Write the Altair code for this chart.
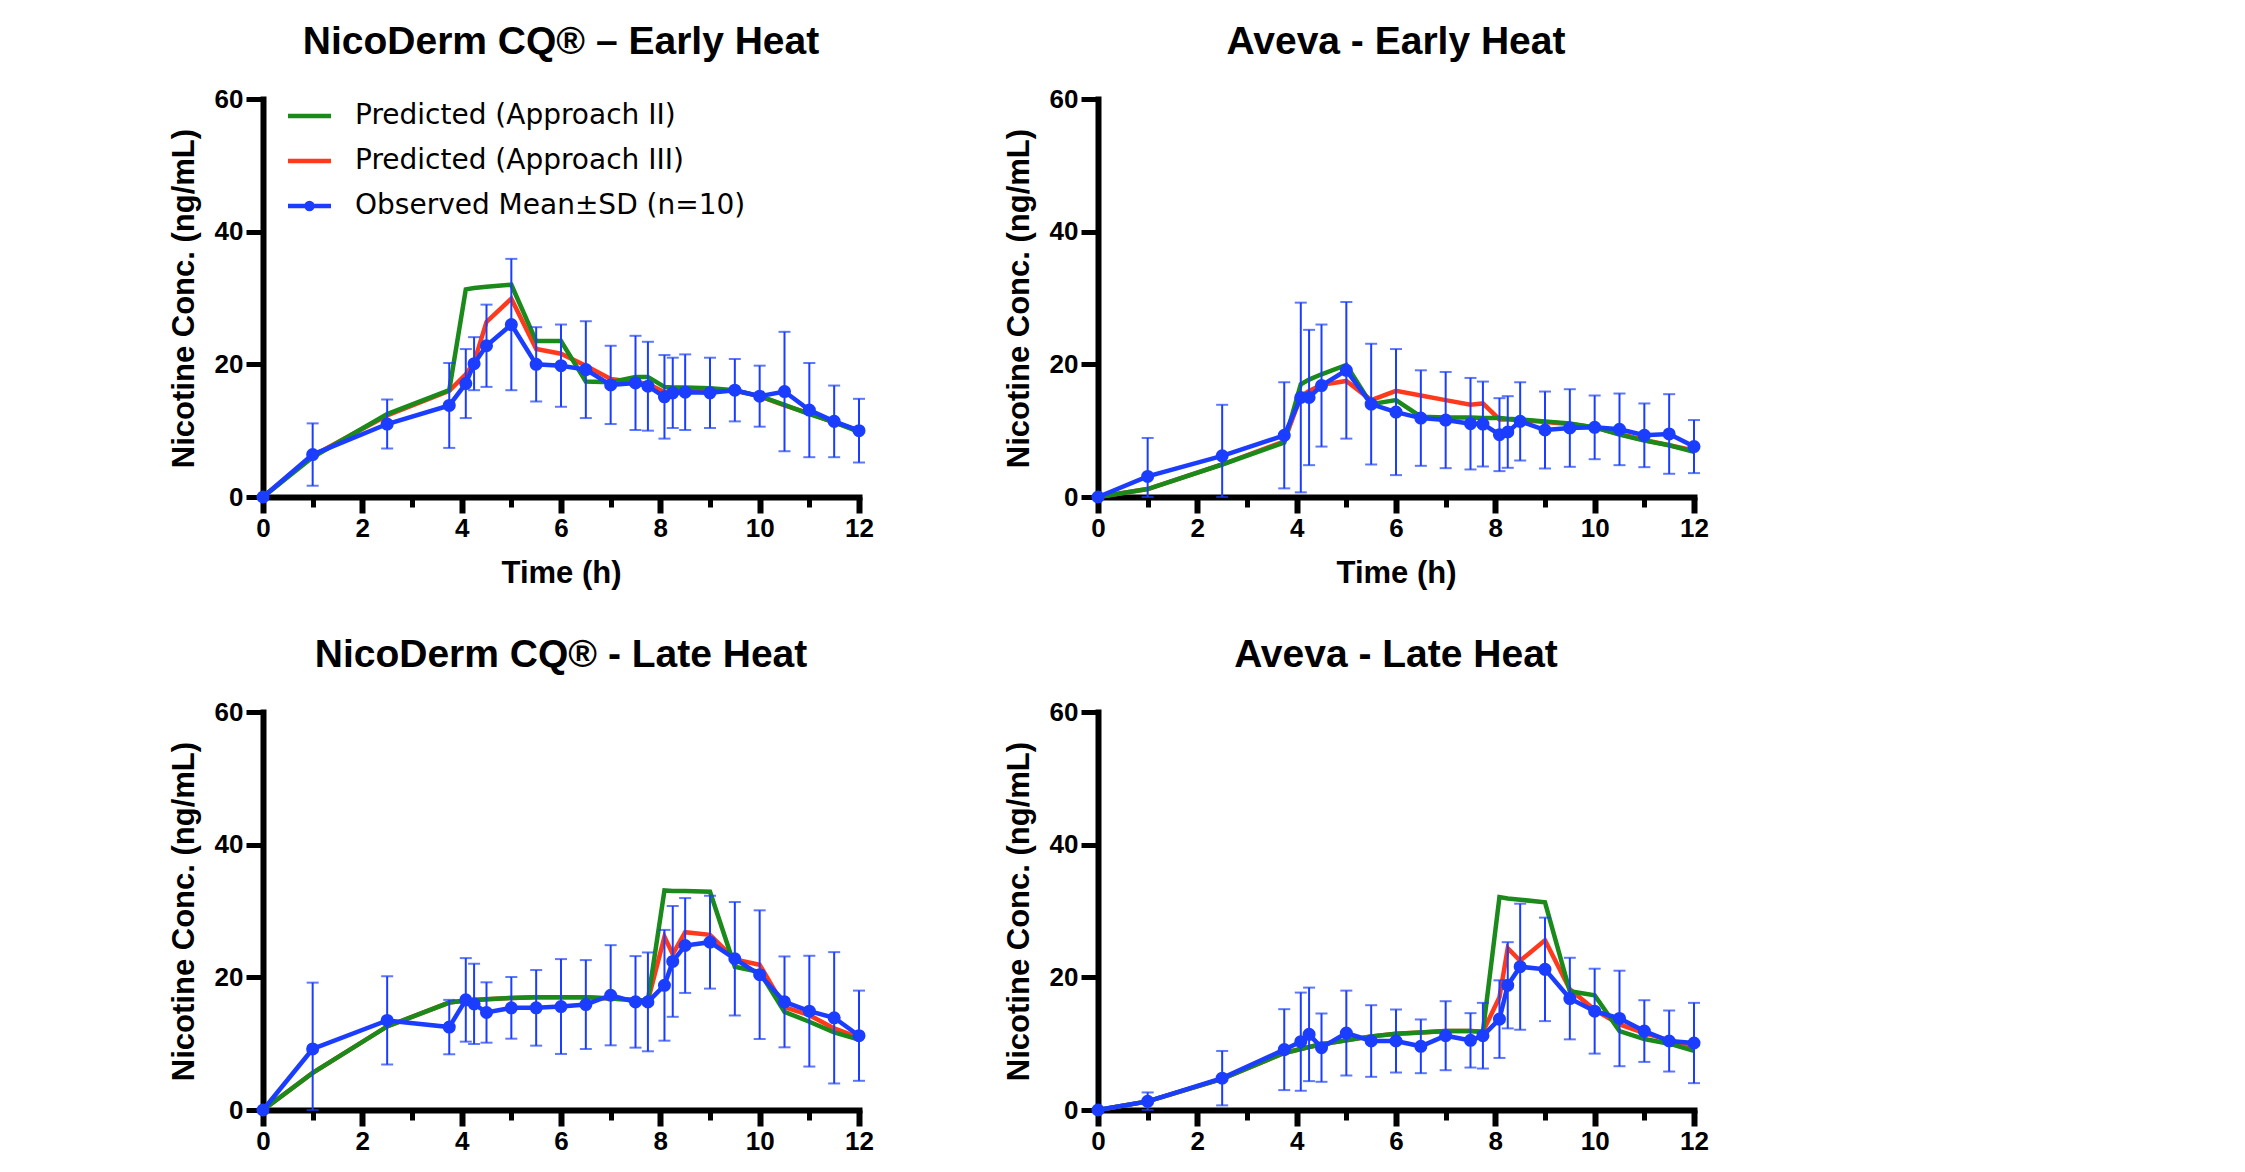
import altair as alt
import pandas as pd

FONT = "Liberation Sans"
LEGEND_FONT = "DejaVu Sans"
GREEN = "#1a8a1a"
RED = "#ff3a1c"
BLUE = "#1a3dff"

SERIES = ["Predicted (Approach II)", "Predicted (Approach III)", "Observed Mean±SD (n=10)"]
TITLES = ["NicoDerm CQ® – Early Heat", "Aveva - Early Heat",
          "NicoDerm CQ® - Late Heat", "Aveva - Late Heat"]

TIME = [0, 1, 2.5, 3.75, 4.083, 4.25, 4.5, 5, 5.5, 6, 6.5, 7, 7.5, 7.75,
        8.083, 8.25, 8.5, 9, 9.5, 10, 10.5, 11, 11.5, 12]

# NicoDerm CQ - Early Heat
nd_early_obs = [0, 6.4, 11.0, 13.8, 17.1, 20.1, 22.8, 26.0, 20.0, 19.8, 19.2, 16.9, 17.2, 16.7,
                15.1, 15.7, 15.8, 15.7, 16.1, 15.2, 15.9, 13.1, 11.4, 10.0]
nd_early_sd = [0, 4.7, 3.7, 6.4, 5.2, 4.0, 6.2, 9.9, 5.6, 6.2, 7.3, 5.9, 7.1, 6.7,
               6.3, 5.3, 5.7, 5.3, 4.7, 4.6, 9.0, 7.1, 5.4, 4.8]
nd_early_p2 = [0, 6.0, 12.5, 16.1, 31.3, 31.5, 31.7, 32.0, 23.5, 23.5, 17.4, 17.3, 18.1, 18.1,
               16.6, 16.5, 16.5, 16.4, 16.1, 15.2, 13.9, 12.5, 11.3, 9.8]
nd_early_p3 = [0, 6.2, 12.3, 16.0, 18.5, 20.3, 26.4, 29.9, 22.3, 21.6, 19.8, 17.8, 17.3, 17.1,
               15.8, 16.0, 16.0, 16.0, 16.0, 15.2, 13.8, 12.6, 11.2, 10.0]

# Aveva - Early Heat
av_early_obs = [0, 3.1, 6.2, 9.3, 15.0, 15.0, 16.8, 19.1, 14.0, 12.8, 11.9, 11.6, 11.05, 11.0,
                9.4, 9.8, 11.4, 10.1, 10.4, 10.5, 10.2, 9.3, 9.5, 7.6]
av_early_sd = [0, 5.8, 7.7, 8.0, 14.3, 10.2, 9.2, 10.3, 9.1, 9.5, 7.2, 7.25, 6.9, 6.4,
               5.5, 5.4, 5.9, 5.8, 5.85, 4.8, 5.4, 4.8, 6.0, 4.0]
av_early_p2 = [0, 1.2, 4.9, 8.2, 17.0, 17.7, 18.5, 19.9, 14.0, 14.6, 12.1, 12.0, 12.0, 11.9,
               11.9, 11.8, 11.7, 11.4, 11.1, 10.5, 9.4, 8.5, 7.8, 6.8]
av_early_p3 = [0, 1.2, 4.9, 8.4, 15.2, 16.0, 16.9, 17.5, 14.6, 16.0, 15.3, 14.6, 13.9, 14.1,
               11.7, 11.7, 11.6, 11.3, 11.0, 10.5, 9.5, 8.6, 7.8, 7.0]

# NicoDerm CQ - Late Heat
nd_late_obs = [0, 9.2, 13.5, 12.5, 16.6, 16.0, 14.7, 15.4, 15.4, 15.6, 15.9, 17.3, 16.3, 16.3,
               18.8, 22.4, 24.8, 25.3, 22.8, 20.4, 16.3, 14.9, 13.9, 11.2]
nd_late_sd = [0, 10.0, 6.65, 4.1, 6.3, 6.05, 4.55, 4.65, 5.7, 7.15, 6.7, 7.55, 6.9, 7.45,
              8.35, 8.35, 7.15, 7.0, 8.55, 9.7, 6.85, 8.35, 9.9, 6.8]
nd_late_p2 = [0, 5.6, 12.6, 16.2, 16.5, 16.6, 16.7, 16.9, 17.0, 17.0, 17.0, 16.8, 16.6, 16.5,
              33.1, 33.0, 33.0, 32.9, 21.6, 20.8, 14.8, 13.3, 11.7, 10.6]
nd_late_p3 = [0, 5.6, 12.6, 16.2, 16.5, 16.6, 16.7, 16.9, 17.0, 17.0, 17.0, 16.8, 16.6, 16.5,
              26.1, 23.5, 26.8, 26.4, 22.7, 21.9, 15.5, 14.3, 12.3, 10.9]

# Aveva - Late Heat
av_late_obs = [0, 1.3, 4.8, 9.1, 10.3, 11.4, 9.4, 11.6, 10.4, 10.4, 9.6, 11.2, 10.5, 11.2,
               13.7, 18.8, 21.6, 21.2, 16.8, 14.9, 13.8, 11.9, 10.4, 10.1]
av_late_sd = [0, 1.35, 4.1, 6.1, 7.4, 7.05, 5.15, 6.4, 5.4, 4.75, 4.05, 5.2, 4.1, 4.95,
              5.85, 6.5, 9.5, 7.8, 6.15, 6.4, 7.2, 4.65, 4.6, 6.05]
av_late_p2 = [0, 1.3, 4.7, 8.6, 9.2, 9.5, 9.9, 10.5, 11.1, 11.5, 11.7, 11.9, 11.9, 11.8,
              32.1, 31.9, 31.7, 31.3, 17.9, 17.3, 11.9, 10.7, 10.0, 8.9]
av_late_p3 = [0, 1.3, 4.7, 8.6, 9.2, 9.5, 9.9, 10.5, 11.1, 11.5, 11.7, 11.9, 11.9, 11.8,
              17.0, 24.4, 22.5, 25.6, 18.2, 15.1, 12.9, 11.6, 10.5, 9.6]

X_TICKS = list(range(13))
Y_TICKS = [0, 20, 40, 60]
Y_TITLE = "Nicotine Conc. (ng/mL)"
X_TITLE = "Time (h)"

W, H = 596, 398

SYM_LINE = "M-2.15,0L2.15,0"
SYM_DOT = "M-2.15,0L2.15,0M0.3,0A0.3,0.3,0,1,1,-0.3,0A0.3,0.3,0,1,1,0.3,0"
SYM_EXPR = "datum.value == '%s' ? '%s' : '%s'" % (SERIES[2], SYM_DOT, SYM_LINE)

color_scale = alt.Scale(domain=SERIES, range=[GREEN, RED, BLUE])
xscale = alt.Scale(domain=[0, 12], nice=False, zero=True)
yscale = alt.Scale(domain=[0, 60], nice=False)

LABEL_KW = dict(labelFont=FONT, labelFontSize=26, labelFontWeight="bold", labelColor="black",
                labelFlush=False,
                titleFont=FONT, titleFontSize=31, titleFontWeight="bold", titleColor="black",
                domainColor="black", domainWidth=6, domainCap="square",
                tickColor="black", grid=False)


def x_axis(show_title):
    return alt.Axis(
        values=X_TICKS,
        labelExpr="datum.value % 2 == 0 ? datum.label : ''",
        labelOverlap=False,
        tickSize={"condition": {"test": "datum.value % 2 == 1", "value": 10}, "value": 16},
        tickWidth={"condition": {"test": "datum.value % 2 == 1", "value": 5}, "value": 6},
        labelPadding=2,
        titlePadding=17,
        title=X_TITLE if show_title else None,
        **LABEL_KW,
    )


def y_axis():
    return alt.Axis(values=Y_TICKS, tickSize=17, tickWidth=5, labelPadding=3, titlePadding=14,
                    title=Y_TITLE, **LABEL_KW)


def panel(title, obs, sd, p2, p3, show_legend, show_xtitle):
    rows = []
    # drawing order: approach III first, approach II above it, observed on top
    for name, vals in [(SERIES[1], p3), (SERIES[0], p2), (SERIES[2], obs)]:
        for t, v in zip(TIME, vals):
            rows.append({"t": t, "v": v, "series": name})
    lines_df = pd.DataFrame(rows)
    obs_df = pd.DataFrame({
        "t": TIME,
        "v": obs,
        "lo": [max(0.0, m - s) for m, s in zip(obs, sd)],
        "hi": [m + s for m, s in zip(obs, sd)],
        "series": SERIES[2],
    })

    if show_legend:
        legend = alt.Legend(
            title=None, orient="none", legendX=32.5, legendY=3,
            symbolType=alt.ExprRef(expr=SYM_EXPR), symbolSize=400, symbolStrokeWidth=3.5,
            labelFont=LEGEND_FONT, labelFontSize=28, labelFontWeight="normal", labelColor="black",
            labelOffset=31.5, labelLimit=0, rowPadding=17, padding=0,
        )
    else:
        legend = None

    lines = alt.Chart(lines_df).mark_line().encode(
        x=alt.X("t:Q", scale=xscale, axis=x_axis(show_xtitle)),
        y=alt.Y("v:Q", scale=yscale, axis=y_axis()),
        color=alt.Color("series:N", scale=color_scale, legend=legend, sort=SERIES),
        strokeWidth=alt.StrokeWidth("series:N", scale=alt.Scale(domain=SERIES, range=[4.5, 4.5, 5.5]),
                                    legend=None),
    )
    errs = alt.Chart(obs_df).mark_errorbar(ticks=True, size=12, thickness=2, color=BLUE).encode(
        x=alt.X("t:Q", scale=xscale),
        y=alt.Y("lo:Q", scale=yscale, title=Y_TITLE),
        y2="hi:Q",
    )
    pts = alt.Chart(obs_df).mark_circle(size=170, opacity=1, color=BLUE).encode(
        x=alt.X("t:Q", scale=xscale),
        y=alt.Y("v:Q", scale=yscale, title=Y_TITLE),
    )
    return alt.layer(lines, errs, pts).properties(
        width=W, height=H,
        title=alt.TitleParams(title, fontSize=39, font=FONT, fontWeight="bold",
                              color="black", offset=24, anchor="middle"),
    )


tl = panel(TITLES[0], nd_early_obs, nd_early_sd, nd_early_p2, nd_early_p3, True, True)
tr = panel(TITLES[1], av_early_obs, av_early_sd, av_early_p2, av_early_p3, False, True)
bl = panel(TITLES[2], nd_late_obs, nd_late_sd, nd_late_p2, nd_late_p3, False, False)
br = panel(TITLES[3], av_late_obs, av_late_sd, av_late_p2, av_late_p3, False, False)

chart = alt.vconcat(
    alt.hconcat(tl, tr, spacing=129),
    alt.hconcat(bl, br, spacing=129),
    spacing=48,
).properties(
    padding={"left": 160, "top": 15, "right": 5, "bottom": 5},
).configure_view(stroke=None)

chart.save("out.html", embed_options={"renderer": "svg", "actions": False})
